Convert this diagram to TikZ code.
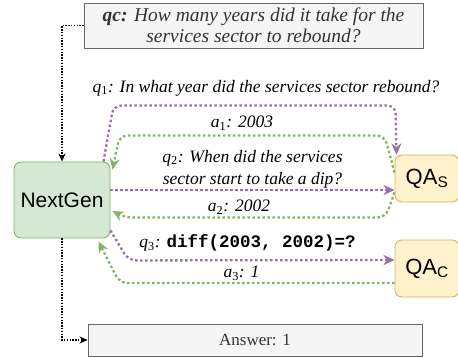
\documentclass[tikz,border=0pt]{standalone}
\usepackage{fontspec}
\setmainfont{Liberation Serif}
\newfontfamily\arialfont{Liberation Sans}
\newfontfamily\courfont{Liberation Mono}
\usetikzlibrary{arrows.meta,calc}

\definecolor{qpurple}{HTML}{9673A6}
\definecolor{agreen}{HTML}{82B366}
\definecolor{genfill}{HTML}{D5E8D4}
\definecolor{qafill}{HTML}{FFF2CC}
\definecolor{qadraw}{HTML}{D6B656}
\definecolor{boxgray}{HTML}{666666}
\definecolor{boxfill}{HTML}{F5F5F5}
\definecolor{textgray}{HTML}{333333}

\newcommand{\qsub}[2]{#1\textsubscript{\upshape #2}}

\tikzset{
  graybox/.style={draw=boxgray, fill=boxfill, text=textgray, line width=0.9pt, inner sep=0pt, align=center},
  agent/.style={draw=agreen, fill=genfill, line width=0.9pt, rounded corners=7pt, font=\arialfont\fontsize{21}{25}\selectfont},
  qatool/.style={draw=qadraw, fill=qafill, line width=0.9pt, rounded corners=7pt, font=\arialfont\fontsize{22}{26}\selectfont},
  lbl/.style={inner sep=0pt, align=center, font=\itshape\fontsize{17.5}{22}\selectfont},
  ctrl/.style={black, line width=1.4pt, dash pattern=on 1.4pt off 1.4pt, -{Stealth[length=8pt,width=7pt,inset=2.5pt]}},
  qline/.style={qpurple, line width=2.3pt, dash pattern=on 2.5pt off 2.5pt, rounded corners=8pt, -{Stealth[length=11pt,width=10pt,inset=3.5pt]}},
  aline/.style={agreen, line width=2.3pt, dash pattern=on 2.5pt off 2.5pt, rounded corners=8pt, -{Stealth[length=11pt,width=10pt,inset=3.5pt]}}
}

\begin{document}
\begin{tikzpicture}[x=1pt, y=-1pt]
  \useasboundingbox (0,0) rectangle (458,358);

  %%%%% boxes %%%%%
  \node[graybox, minimum width=339pt, minimum height=45pt, font=\itshape\fontsize{19.5}{21.5}\selectfont] (qc) at (253.5,25.5)
    {\textbf{qc:} How many years did it take for the\\services sector to rebound?};
  \node[agent, minimum width=96pt, minimum height=76pt] (nextgen) at (62,200) {NextGen};
  \node[qatool, minimum width=64pt, minimum height=47pt] (qas) at (427,178.5) {QA\textsubscript{S}};
  \node[qatool, minimum width=64pt, minimum height=57pt] (qac) at (427,268.5) {QA\textsubscript{C}};
  \node[graybox, minimum width=334pt, minimum height=32pt, font=\fontsize{17}{20}\selectfont] (answer) at (255,340) {Answer: 1};

  %%%%% control flow %%%%%
  \draw[ctrl] (qc.west) -| (nextgen.north);
  \draw[ctrl] (nextgen.south) |- (answer.west);

  %%%%% questions and answers %%%%%
  \draw[qline] ([xshift=-7pt]nextgen.north east) -- ++(10,-56) -- ++(282,0) -- ([xshift=2pt]qas.north west);
  \draw[aline] ([yshift=6pt]qas.west) -- ++(-10,-37) -- ++(-265,0) -- ([xshift=2pt,yshift=-8pt]nextgen.north east);

  \coordinate (q2s) at ([yshift=10pt]nextgen.east);
  \draw[qline] (q2s) -- (q2s -| qas.west);
  \draw[aline] ([yshift=-14pt]qas.west) -- ++(-9,25) -- ++(-261,0) -- ([xshift=2pt,yshift=-11pt]nextgen.east);

  \draw[qline] ([yshift=8pt]nextgen.south east) -- ++(18,30) -- ([yshift=8.5pt]qac.west);
  \draw[aline] ([yshift=-14.5pt]qac.west) -- ++(-275,0) -- ([xshift=-12pt,yshift=-3pt]nextgen.south east);

  %%%%% labels %%%%%
  \node[lbl] (q1lbl) at (266,88) {\qsub{q}{1}: In what year did the services sector rebound?};
  \node[lbl] (a1lbl) at (242,123) {\qsub{a}{1}: 2003};
  \node[lbl] (q2lbl) at (252.5,169) {\qsub{q}{2}: When did the services\\sector start to take a dip?};
  \node[lbl] (a2lbl) at (239,207) {\qsub{a}{2}: 2002};
  \node[lbl] (q3lbl) at (247.5,243) {\qsub{q}{3}: {\upshape\courfont\bfseries diff(2003, 2002)=?}};
  \node[lbl] (a3lbl) at (241.5,273) {\qsub{a}{3}: 1};
\end{tikzpicture}
\end{document}
